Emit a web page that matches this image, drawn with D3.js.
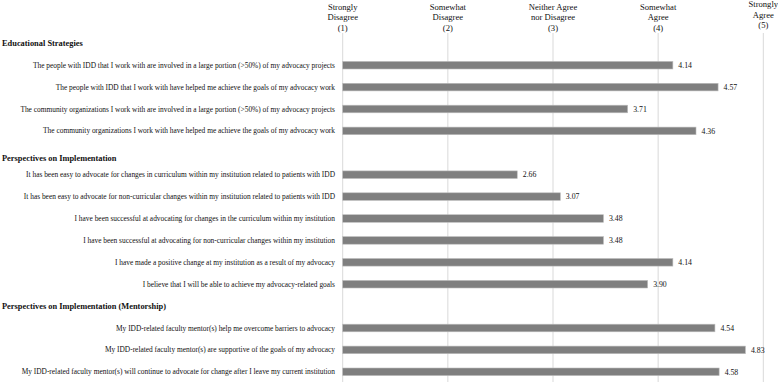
<!DOCTYPE html>
<html>
<head>
<meta charset="utf-8">
<script src="https://cdn.jsdelivr.net/npm/d3@7"></script>
<style>
  body { margin: 0; background: #fff; }
  text { font-family: "Liberation Serif", "Times New Roman", serif; fill: #111; }
</style>
</head>
<body>
<svg id="chart" width="778" height="382"></svg>
<script>
// Scale labels across the top
let scaleTicks = [1, 2, 3, 4, 5];
let scaleLabels = [
    ["Strongly", "Disagree", "(1)"],
    ["Somewhat", "Disagree", "(2)"],
    ["Neither Agree", "nor Disagree", "(3)"],
    ["Somewhat", "Agree", "(4)"],
    ["Strongly", "Agree", "(5)"]
];

// Sections and items
let sections = ["Educational Strategies", "Perspectives on Implementation", "Perspectives on Implementation (Mentorship)"];

let educationItems = [
    "The people with IDD that I work with are involved in a large portion (>50%) of my advocacy projects",
    "The people with IDD that I work with have helped me achieve the goals of my advocacy work",
    "The community organizations I work with are involved in a large portion (>50%) of my advocacy projects",
    "The community organizations I work with have helped me achieve the goals of my advocacy work"
];
let educationValues = [4.14, 4.57, 3.71, 4.36];

let implementationItems = [
    "It has been easy to advocate for changes in curriculum within my institution related to patients with IDD",
    "It has been easy to advocate for non-curricular changes within my institution related to patients with IDD",
    "I have been successful at advocating for changes in the curriculum within my institution",
    "I have been successful at advocating for non-curricular changes within my institution",
    "I have made a positive change at my institution as a result of my advocacy",
    "I believe that I will be able to achieve my advocacy-related goals"
];
let implementationValues = [2.66, 3.07, 3.48, 3.48, 4.14, 3.90];

let mentorshipItems = [
    "My IDD-related faculty mentor(s) help me overcome barriers to advocacy",
    "My IDD-related faculty mentor(s) are supportive of the goals of my advocacy",
    "My IDD-related faculty mentor(s) will continue to advocate for change after I leave my current institution"
];
let mentorshipValues = [4.54, 4.83, 4.58];

// Build rows: a heading row, then its items
let groups = [
    [educationItems, educationValues],
    [implementationItems, implementationValues],
    [mentorshipItems, mentorshipValues]
];
let rows = [];
groups.forEach(([items, values], gi) => {
    rows.push({ key: "h" + gi, heading: sections[gi] });
    items.forEach((label, i) => rows.push({ key: "r" + gi + "_" + i, label: label, value: values[i] }));
});
let bars = rows.filter(r => r.heading === undefined);
let headings = rows.filter(r => r.heading !== undefined);

// Layout
let svg = d3.select("#chart");
let x = d3.scaleLinear().domain([1, 5]).range([342.7, 763.3]);
let y = d3.scalePoint().domain(rows.map(r => r.key)).range([43.3, 371.8]);
let barH = 7.6;

// Gridlines
svg.append("g")
    .selectAll("line")
    .data(scaleTicks)
    .join("line")
    .attr("x1", d => x(d)).attr("x2", d => x(d))
    .attr("y1", 33).attr("y2", 382)
    .attr("stroke", "#d9d9d9")
    .attr("stroke-width", 1);

// Scale header labels
let head = svg.append("g").selectAll("text")
    .data(scaleTicks)
    .join("text")
    .attr("x", d => x(d))
    .attr("y", (d, i) => i == 4 ? 7 : 9.5)
    .attr("text-anchor", "middle")
    .attr("font-size", "8.6px");
head.selectAll("tspan")
    .data((d, i) => scaleLabels[i])
    .join("tspan")
    .attr("x", function () { return d3.select(this.parentNode).attr("x"); })
    .attr("dy", (d, i) => i == 0 ? 0 : 10.5)
    .text(d => d);

// Section headings
svg.append("g").selectAll("text")
    .data(headings)
    .join("text")
    .attr("x", 2)
    .attr("y", (d, i) => y(d.key) + (i == 1 ? 5.5 : 0))
    .attr("dy", "0.35em")
    .attr("font-size", "8.4px")
    .attr("font-weight", "bold")
    .text(d => d.heading);

// Item labels
svg.append("g").selectAll("text")
    .data(bars)
    .join("text")
    .attr("x", 335)
    .attr("y", d => y(d.key))
    .attr("dy", "0.35em")
    .attr("text-anchor", "end")
    .attr("font-size", "7.4px")
    .text(d => d.label);

// Bars
svg.append("g").selectAll("rect")
    .data(bars)
    .join("rect")
    .attr("x", x(1))
    .attr("y", d => y(d.key) - barH / 2)
    .attr("width", d => x(d.value) - x(1))
    .attr("height", barH)
    .attr("fill", "#7f7f7f")
    .attr("stroke", "#bdbdbd")
    .attr("stroke-width", 0.6);

// Value labels
svg.append("g").selectAll("text")
    .data(bars)
    .join("text")
    .attr("x", d => x(d.value) + 5.5)
    .attr("y", d => y(d.key))
    .attr("dy", "0.35em")
    .attr("font-size", "7.8px")
    .text(d => d.value.toFixed(2));
</script>
</body>
</html>
